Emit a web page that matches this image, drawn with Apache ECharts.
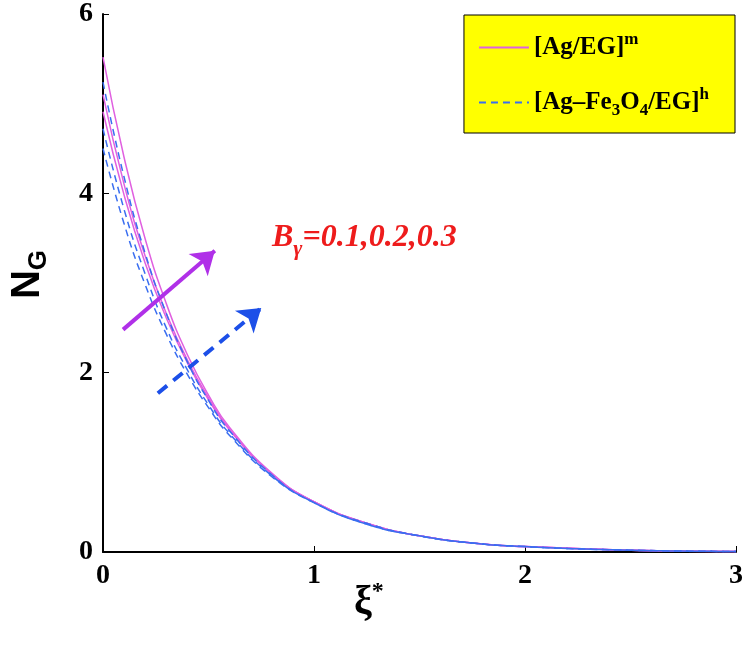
<!DOCTYPE html>
<html>
<head>
<meta charset="utf-8">
<script src="https://cdn.jsdelivr.net/npm/echarts@6/dist/echarts.min.js"></script>
<style>html,body{margin:0;padding:0;background:#fff}#chart{width:750px;height:663px}</style>
</head>
<body>
<div id="chart"></div>
<script>
// x 取值
var xs = [0, 0.1, 0.2, 0.3, 0.4, 0.5, 0.6, 0.8, 1.0, 1.25, 1.5, 1.75, 2.0, 2.5, 3.0];
// [Ag/EG]m, B = 0.1, 0.2, 0.3
var mono1 = [4.91, 3.98, 3.22, 2.61, 2.11, 1.70, 1.36, 0.87, 0.56, 0.32, 0.18, 0.10, 0.06, 0.02, 0.006];
var mono2 = [5.10, 4.10, 3.30, 2.66, 2.14, 1.72, 1.37, 0.87, 0.56, 0.32, 0.18, 0.10, 0.06, 0.02, 0.006];
var mono3 = [5.52, 4.40, 3.49, 2.77, 2.20, 1.75, 1.39, 0.88, 0.56, 0.32, 0.18, 0.10, 0.06, 0.02, 0.006];
// [Ag-Fe3O4/EG]h
var hyb1 = [4.50, 3.66, 2.98, 2.43, 1.98, 1.61, 1.30, 0.84, 0.55, 0.31, 0.18, 0.10, 0.06, 0.02, 0.006];
var hyb2 = [4.72, 3.82, 3.10, 2.50, 2.03, 1.64, 1.32, 0.85, 0.55, 0.31, 0.18, 0.10, 0.06, 0.02, 0.006];
var hyb3 = [5.24, 4.18, 3.33, 2.66, 2.12, 1.69, 1.35, 0.86, 0.55, 0.32, 0.18, 0.10, 0.06, 0.02, 0.006];
// 箭头
var arrowM = [[0.095, 2.48], [0.53, 3.36]];
var arrowH = [[0.26, 1.77], [0.75, 2.72]];

var MNAME = '[Ag/EG]m', HNAME = '[Ag-Fe3O4/EG]h';
function pairs(ys) { return xs.map(function (x, i) { return [x, ys[i]]; }); }
function mk(name, ys, color, dashed) {
    return {
        name: name, type: 'line', data: pairs(ys), smooth: true, symbol: 'none',
        lineStyle: { color: color, width: 1.5, type: dashed ? [7, 5] : 'solid' },
        itemStyle: { color: color }
    };
}
var series = [
    mk(MNAME, mono1, '#e060e0', false), mk(MNAME, mono2, '#e060e0', false), mk(MNAME, mono3, '#e060e0', false),
    mk(HNAME, hyb1, '#3a6ef0', true), mk(HNAME, hyb2, '#3a6ef0', true), mk(HNAME, hyb3, '#3a6ef0', true)
];
series.push({
    type: 'line', data: [], silent: true,
    markLine: {
        silent: true, symbol: ['none', 'arrow'], symbolSize: 22, label: { show: false },
        data: [
            [{ coord: arrowM[0], lineStyle: { color: '#b030e8', width: 4, type: 'solid' } }, { coord: arrowM[1] }],
            [{ coord: arrowH[0], lineStyle: { color: '#1c4fe8', width: 4, type: [12, 8] } }, { coord: arrowH[1] }]
        ]
    }
});

var chart = echarts.init(document.getElementById('chart'));
var bold = { fontFamily: 'Liberation Serif', fontWeight: 'bold', color: '#000' };
chart.setOption({
    animation: false,
    grid: { left: 103, right: 14, top: 12, bottom: 111 },
    xAxis: {
        type: 'value', min: 0, max: 3, interval: 1,
        axisLine: { lineStyle: { color: '#000', width: 2 } },
        axisTick: { inside: true, length: 6, lineStyle: { color: '#000' } },
        axisLabel: Object.assign({ fontSize: 28, margin: 10 }, bold),
        splitLine: { show: false }
    },
    yAxis: {
        type: 'value', min: 0, max: 6, interval: 2,
        axisLine: { show: true, lineStyle: { color: '#000', width: 2 } },
        axisTick: { show: true, inside: true, length: 6, lineStyle: { color: '#000' } },
        axisLabel: Object.assign({ fontSize: 28, margin: 10 }, bold),
        splitLine: { show: false }
    },
    legend: {
        data: [MNAME, HNAME], orient: 'vertical', right: 15, top: 15,
        backgroundColor: '#ffff00', borderColor: '#000', borderWidth: 1,
        padding: [16, 26, 14, 14], itemGap: 26, itemWidth: 50, itemHeight: 10,
        itemStyle: { opacity: 0 },
        formatter: function (n) {
            return n === MNAME ? '{t|[Ag/EG]}{sup|m}' : '{t|[Ag\u2013Fe}{sub|3}{t|O}{sub|4}{t|/EG]}{sup|h}';
        },
        textStyle: {
            rich: {
                t: Object.assign({ fontSize: 25 }, bold),
                sup: Object.assign({ fontSize: 17, verticalAlign: 'top', padding: [0, 0, 16, 0] }, bold),
                sub: Object.assign({ fontSize: 17, verticalAlign: 'bottom', padding: [16, 0, 0, 0] }, bold)
            }
        }
    },
    graphic: [
        { type: 'text', left: 272, top: 222, style: { rich: {
            b: { fontFamily: 'Liberation Serif', fontWeight: 'bold', fontStyle: 'italic', fontSize: 32, fill: '#ee1c1c' },
            s: { fontFamily: 'Liberation Serif', fontWeight: 'bold', fontStyle: 'italic', fontSize: 22, fill: '#ee1c1c', padding: [22, 0, 0, 0] }
        }, text: '{b|B}{s|\u03b3}{b|=0.1,0.2,0.3}' } },
        { type: 'text', left: 8, top: 250, rotation: Math.PI / 2, style: { rich: {
            b: { fontFamily: 'Liberation Sans', fontWeight: 'bold', fontSize: 40, fill: '#000' },
            s: { fontFamily: 'Liberation Sans', fontWeight: 'bold', fontSize: 26, fill: '#000', padding: [22, 0, 0, 0] }
        }, text: '{b|N}{s|G}' } },
        { type: 'text', left: 354, top: 580, style: { rich: {
            b: { fontFamily: 'Liberation Serif', fontWeight: 'bold', fontSize: 40, fill: '#000' },
            p: { fontFamily: 'Liberation Serif', fontWeight: 'bold', fontSize: 24, fill: '#000', padding: [0, 0, 22, 0] }
        }, text: '{b|\u03be}{p|*}' } }
    ],
    series: series
});
</script>
</body>
</html>
